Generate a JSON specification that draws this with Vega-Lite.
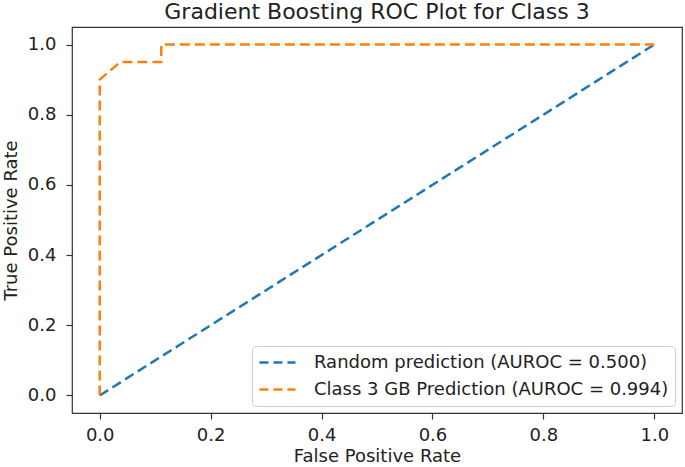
{
  "$schema": "https://vega.github.io/schema/vega-lite/v6.json",
  "width": 610,
  "height": 386,
  "autosize": {"type": "none"},
  "padding": {"left": 72, "top": 27, "right": 3, "bottom": 54},
  "background": "white",
  "title": {"text": "Gradient Boosting ROC Plot for Class 3", "fontSize": 22, "fontWeight": "normal", "font": "DejaVu Sans", "color": "#222", "offset": 3},
  "config": {
    "view": {"stroke": "#333", "strokeWidth": 1.2},
    "font": "DejaVu Sans",
    "axis": {"grid": false, "domain": false, "tickColor": "#333", "tickSize": 6, "tickWidth": 1.2, "labelFontSize": 18, "labelColor": "#222", "titleFontSize": 18, "titleFontWeight": "normal", "titleColor": "#222", "labelFont": "DejaVu Sans", "titleFont": "DejaVu Sans"}
  },
  "data": {"values": [
    {"series": "Random prediction (AUROC = 0.500)", "order": 0, "fpr": 0, "tpr": 0},
    {"series": "Random prediction (AUROC = 0.500)", "order": 1, "fpr": 1, "tpr": 1},
    {"series": "Class 3 GB Prediction (AUROC = 0.994)", "order": 0, "fpr": 0, "tpr": 0},
    {"series": "Class 3 GB Prediction (AUROC = 0.994)", "order": 1, "fpr": 0, "tpr": 0.9},
    {"series": "Class 3 GB Prediction (AUROC = 0.994)", "order": 2, "fpr": 0.037, "tpr": 0.95},
    {"series": "Class 3 GB Prediction (AUROC = 0.994)", "order": 3, "fpr": 0.111, "tpr": 0.95},
    {"series": "Class 3 GB Prediction (AUROC = 0.994)", "order": 4, "fpr": 0.111, "tpr": 1.0},
    {"series": "Class 3 GB Prediction (AUROC = 0.994)", "order": 5, "fpr": 1, "tpr": 1}
  ]},
  "mark": {"type": "line", "strokeDash": [10, 5], "strokeWidth": 2.5},
  "encoding": {
    "x": {"field": "fpr", "type": "quantitative", "scale": {"domain": [-0.05, 1.05], "nice": false, "zero": false},
      "axis": {"values": [0, 0.2, 0.4, 0.6, 0.8, 1.0], "format": ".1f", "title": "False Positive Rate", "labelPadding": 7, "titleY": 34}},
    "y": {"field": "tpr", "type": "quantitative", "scale": {"domain": [-0.05, 1.05], "nice": false, "zero": false},
      "axis": {"values": [0, 0.2, 0.4, 0.6, 0.8, 1.0], "format": ".1f", "title": "True Positive Rate", "labelPadding": 10, "titleX": -52}},
    "color": {"field": "series", "type": "nominal",
      "scale": {"domain": ["Random prediction (AUROC = 0.500)", "Class 3 GB Prediction (AUROC = 0.994)"], "range": ["#1f77b4", "#ff7f0e"]},
      "legend": {"title": null, "orient": "bottom-right", "offset": 7, "padding": 6, "fillColor": "white", "strokeColor": "#ccc", "cornerRadius": 4,
        "symbolType": "stroke", "symbolDash": [9, 5], "symbolStrokeWidth": 2.5, "symbolSize": 1300, "clipHeight": 21, "labelFontSize": 18, "labelColor": "#222", "labelLimit": 0, "rowPadding": 6, "labelOffset": 17}},
    "order": {"field": "order", "type": "quantitative"}
  }
}
